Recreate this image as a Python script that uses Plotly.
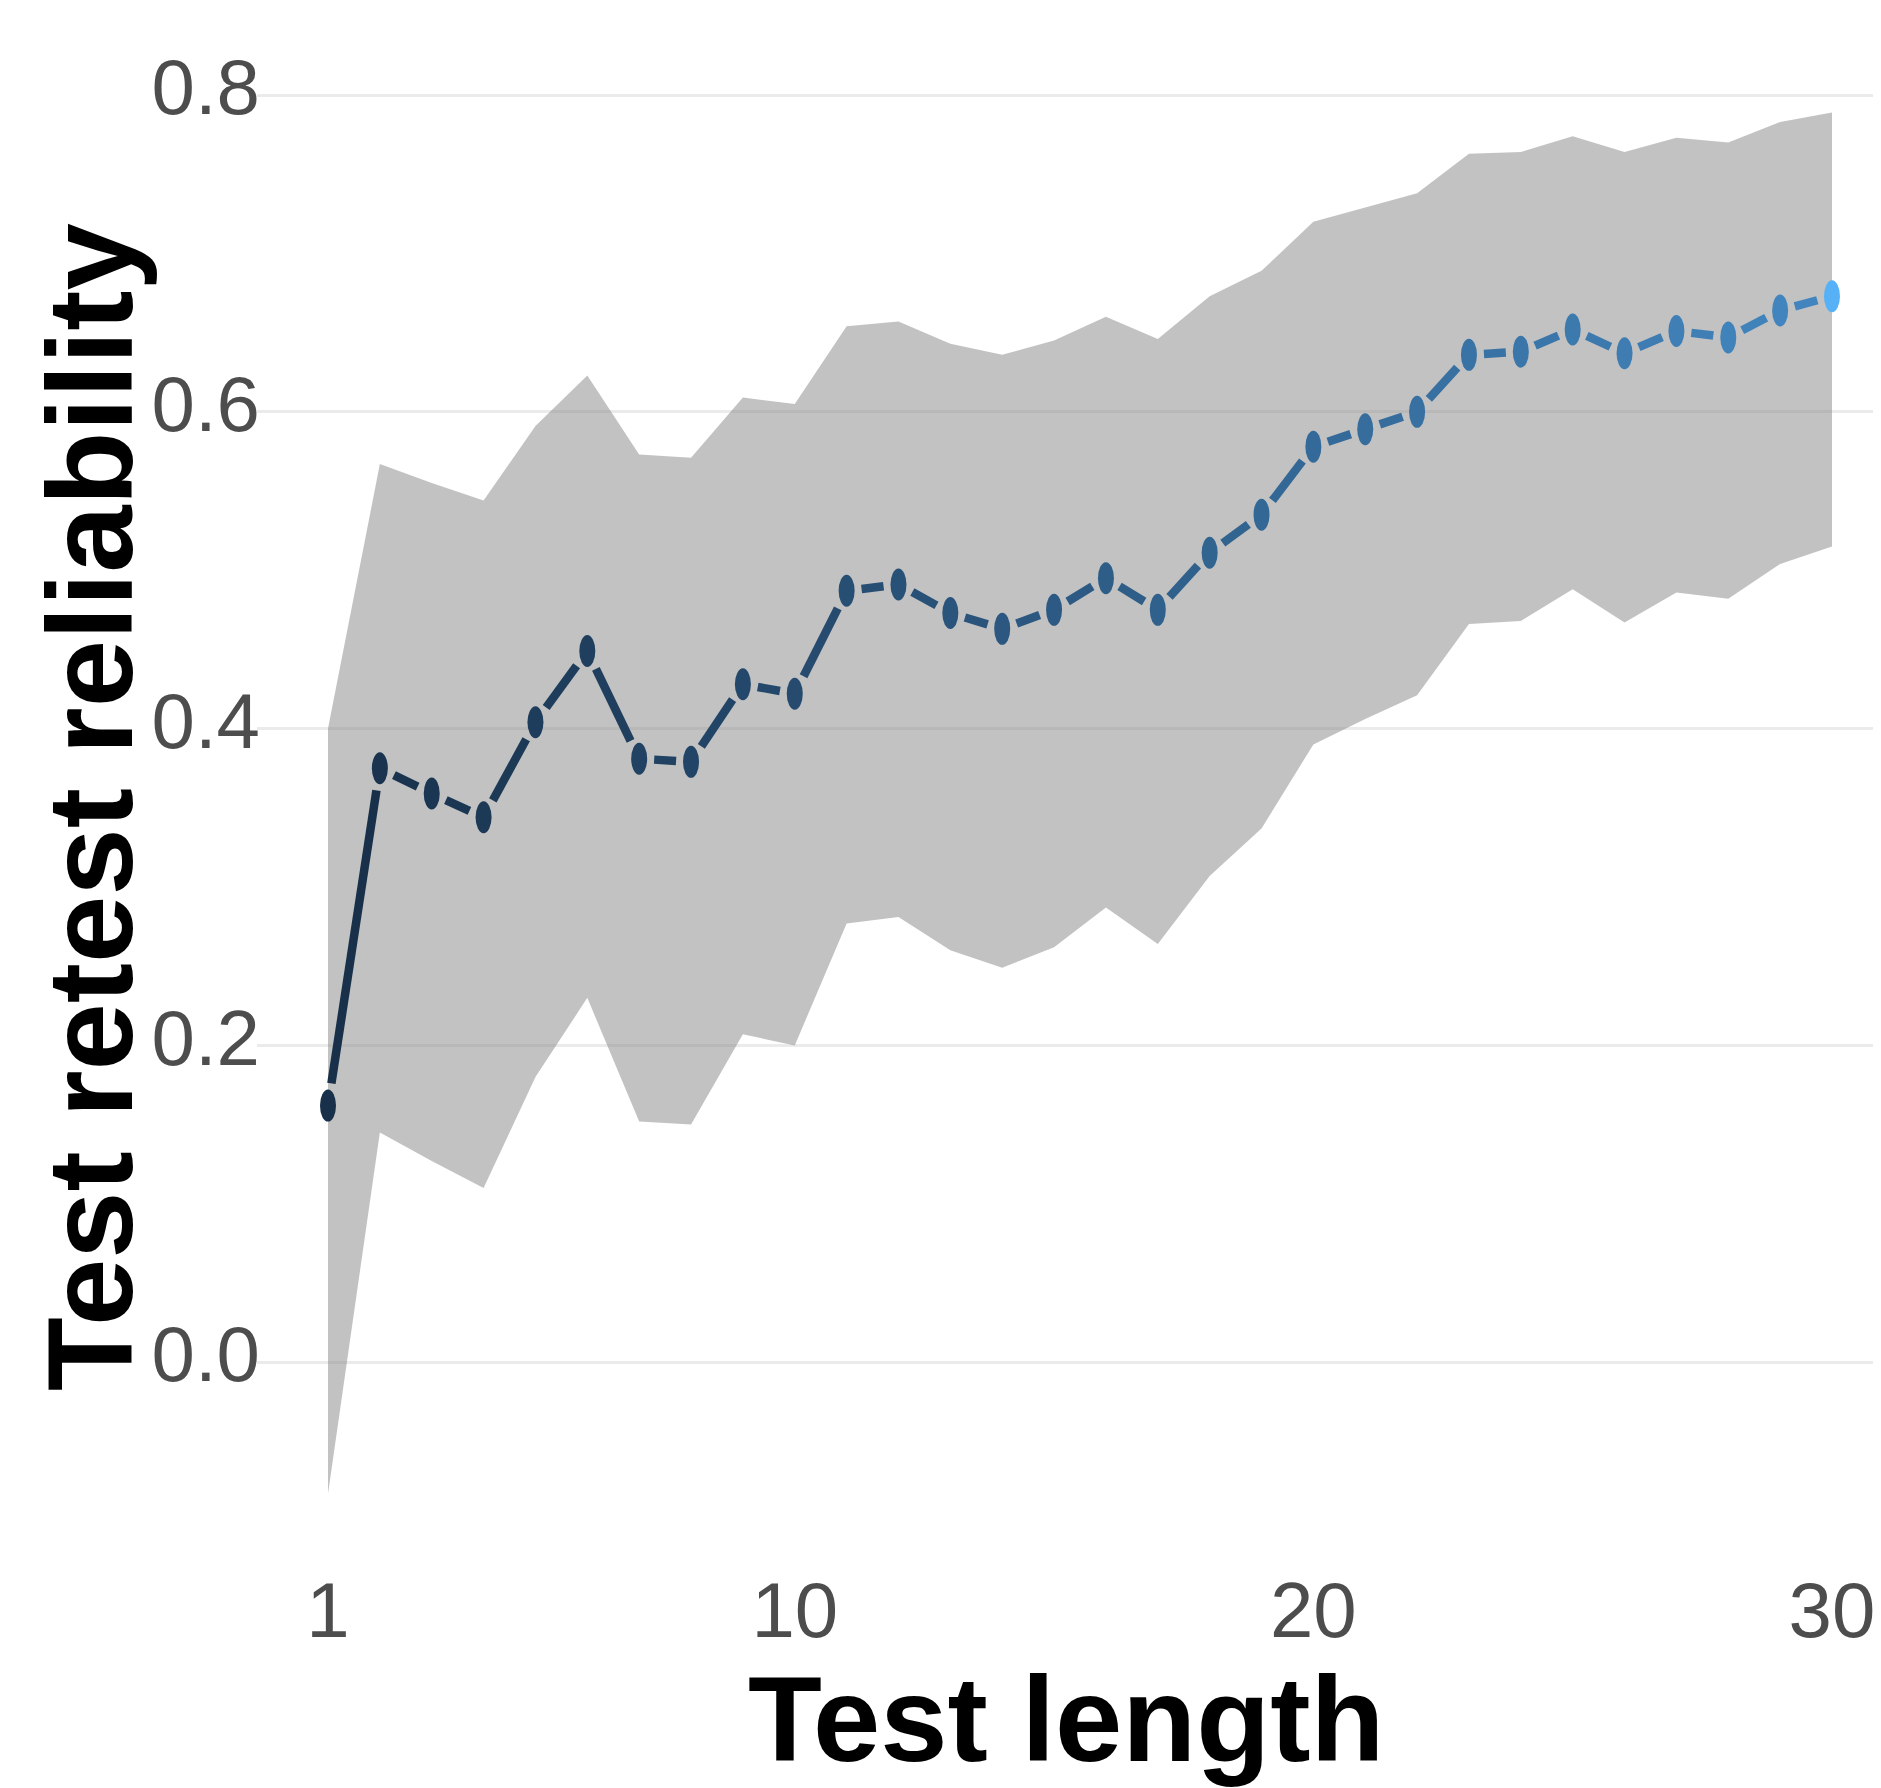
import math
import plotly.graph_objects as go

# ---------------- data ----------------
test_length = list(range(1, 31))
reliability = [0.162, 0.375, 0.359, 0.344, 0.404, 0.449, 0.381, 0.379, 0.428, 0.422,
               0.487, 0.491, 0.473, 0.463, 0.475, 0.495, 0.475, 0.511, 0.535, 0.578,
               0.589, 0.600, 0.636, 0.638, 0.652, 0.637, 0.651, 0.647, 0.664, 0.673]
ci_upper = [0.400, 0.567, 0.555, 0.544, 0.591, 0.623, 0.573, 0.571, 0.609, 0.605,
            0.654, 0.657, 0.643, 0.636, 0.645, 0.660, 0.646, 0.673, 0.689, 0.720,
            0.729, 0.738, 0.763, 0.764, 0.774, 0.764, 0.773, 0.770, 0.783, 0.789]
ci_lower = [-0.083, 0.145, 0.127, 0.110, 0.180, 0.230, 0.152, 0.150, 0.207, 0.200,
            0.277, 0.281, 0.260, 0.249, 0.262, 0.287, 0.264, 0.307, 0.337, 0.390,
            0.406, 0.421, 0.466, 0.468, 0.488, 0.467, 0.486, 0.482, 0.504, 0.515]
x_ticks = [1, 10, 20, 30]
y_ticks = [0.0, 0.2, 0.4, 0.6, 0.8]
x_title = "Test length"
y_title = "Test retest reliability"

# ---------------- layout constants ----------------
BODY = 8  # default page body margin
W, H = 1881 - BODY, 1788 - BODY
M_L, M_R, M_T, M_B = 249, 0, 34, 225
X_RANGE = [-0.369, 30.945]
Y_RANGE = [-0.1268, 0.8335]
FONT = "Liberation Sans, Arial, Helvetica, sans-serif"

plot_w = W - M_L - M_R
plot_h = H - M_T - M_B
plot_left_page = M_L + BODY
plot_bottom_page = H - M_B + BODY
kx = plot_w / (X_RANGE[1] - X_RANGE[0])
ky = plot_h / (Y_RANGE[1] - Y_RANGE[0])

# marker ellipse half sizes (px), line width, gap
RX, RY = 8.0, 16.0
LINE_W = 8.5
GAP = 7.0

# colour gradient
c_start = (24, 48, 74)
c_mid_end = (66, 133, 190)
c_last = (86, 177, 247)


def col(i, n):
    if i == n - 1:
        c = c_last
    else:
        t = i / (n - 2)
        c = tuple(round(a + (b - a) * t) for a, b in zip(c_start, c_mid_end))
    return "rgb(%d,%d,%d)" % c


n = len(test_length)
colors = [col(i, n) for i in range(n)]

fig = go.Figure()

# confidence band
fig.add_trace(go.Scatter(
    x=test_length + test_length[::-1],
    y=ci_upper + ci_lower[::-1],
    fill="toself", fillcolor="rgba(127,127,127,0.48)",
    line=dict(width=0), mode="lines", hoverinfo="skip", showlegend=False,
))


def edge_dist(ux, uy):
    return 1.0 / math.sqrt((ux / RX) ** 2 + (uy / RY) ** 2)


# line segments, shortened so they stop short of the point markers
for i in range(n - 1):
    x0, y0 = test_length[i], reliability[i]
    x1, y1 = test_length[i + 1], reliability[i + 1]
    dxp = (x1 - x0) * kx
    dyp = (y1 - y0) * ky
    L = math.hypot(dxp, dyp)
    ux, uy = dxp / L, dyp / L
    s = (edge_dist(ux, uy) + GAP) / L
    xs = [x0 + (x1 - x0) * s, x1 - (x1 - x0) * s]
    ys = [y0 + (y1 - y0) * s, y1 - (y1 - y0) * s]
    fig.add_trace(go.Scatter(
        x=xs, y=ys, mode="lines",
        line=dict(color=colors[i], width=LINE_W),
        hoverinfo="skip", showlegend=False,
    ))

# elliptical point markers
shapes = []
for i in range(n):
    shapes.append(dict(
        type="circle", layer="above",
        xref="x", yref="y",
        xsizemode="pixel", ysizemode="pixel",
        xanchor=test_length[i], yanchor=reliability[i],
        x0=-RX, x1=RX, y0=-RY, y1=RY,
        fillcolor=colors[i], line=dict(width=0),
    ))


def px_to_paper_x(px_page):
    return (px_page - plot_left_page) / plot_w


def px_to_paper_y(py_page):
    return (plot_bottom_page - py_page) / plot_h


fig.update_layout(
    width=W, height=H,
    margin=dict(l=M_L, r=M_R, t=M_T, b=M_B, pad=0),
    paper_bgcolor="white", plot_bgcolor="white",
    showlegend=False,
    shapes=shapes,
    font=dict(family=FONT, color="#4D4D4D", size=78),
    xaxis=dict(
        range=X_RANGE, tickvals=x_ticks, showgrid=False, zeroline=False,
        showline=False, ticks="", tickfont=dict(size=78, color="#4D4D4D"),
        ticklabelstandoff=-5,
    ),
    yaxis=dict(
        range=Y_RANGE, tickvals=y_ticks, tickformat=".1f",
        showgrid=True, gridcolor="#EBEBEB", gridwidth=2.5,
        zeroline=False, showline=False, ticks="",
        tickfont=dict(size=78, color="#4D4D4D"),
        ticklabelstandoff=-4, ticklabelshift=-8,
    ),
    annotations=[
        dict(text="<b>%s</b>" % x_title, xref="paper", yref="paper",
             x=px_to_paper_x(1066), y=px_to_paper_y(1719),
             xanchor="center", yanchor="middle", showarrow=False,
             font=dict(family=FONT, size=121, color="black")),
        dict(text="<b>%s</b>" % y_title, xref="paper", yref="paper",
             x=px_to_paper_x(90), y=px_to_paper_y(807),
             xanchor="center", yanchor="middle", showarrow=False, textangle=-90,
             font=dict(family=FONT, size=121, color="black")),
    ],
)

fig.write_html("out.html")
